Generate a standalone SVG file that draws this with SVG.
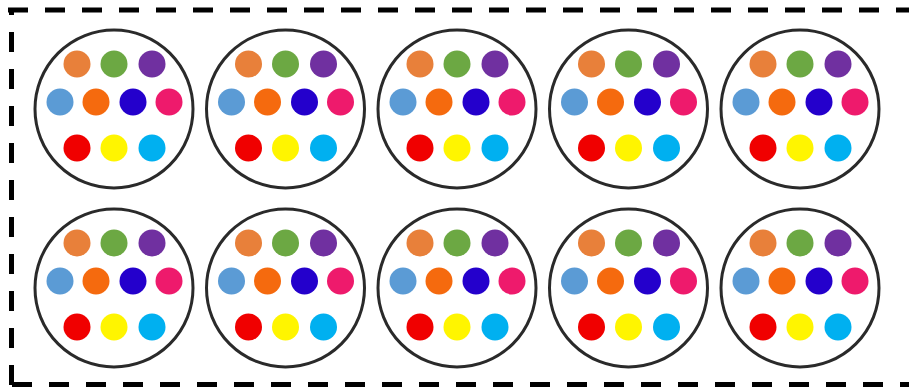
<svg xmlns="http://www.w3.org/2000/svg" xmlns:xlink="http://www.w3.org/1999/xlink" width="909" height="390" viewBox="0 0 909 390">
<style>
.ring{fill:#ffffff;stroke:#2a2a2a;stroke-width:3}
.border{fill:none;stroke:#000000;stroke-width:5;stroke-dasharray:20 17}
.c1{fill:#E8803A}.c2{fill:#6CA843}.c3{fill:#7030A0}
.c4{fill:#5B9BD5}.c5{fill:#F56A0E}.c6{fill:#2400CC}.c7{fill:#EE1A6C}
.c8{fill:#F00000}.c9{fill:#FFF500}.c10{fill:#00B0F0}
</style>
<defs>
<g id="tpl">
<circle class="ring" cx="0" cy="0" r="79"/>
<circle class="c1" cx="-37" cy="-45" r="13.5"/>
<circle class="c2" cx="0" cy="-45" r="13.5"/>
<circle class="c3" cx="38" cy="-45" r="13.5"/>
<circle class="c4" cx="-54" cy="-7" r="13.5"/>
<circle class="c5" cx="-18" cy="-7" r="13.5"/>
<circle class="c6" cx="19" cy="-7" r="13.5"/>
<circle class="c7" cx="55" cy="-7" r="13.5"/>
<circle class="c8" cx="-37" cy="39" r="13.5"/>
<circle class="c9" cx="0" cy="39" r="13.5"/>
<circle class="c10" cx="38" cy="39" r="13.5"/>
</g>
</defs>
<rect width="909" height="390" fill="#ffffff"/>
<g id="border">
<path class="border" d="M8,10 H909"/>
<path class="border" d="M11.5,385 V10"/>
<path class="border" d="M12,384.5 H909"/>
</g>
<g id="n1"><use xlink:href="#tpl" x="114" y="109"/></g>
<g id="n2"><use xlink:href="#tpl" x="285.5" y="109"/></g>
<g id="n3"><use xlink:href="#tpl" x="457" y="109"/></g>
<g id="n4"><use xlink:href="#tpl" x="628.5" y="109"/></g>
<g id="n5"><use xlink:href="#tpl" x="800" y="109"/></g>
<g id="n6"><use xlink:href="#tpl" x="114" y="288"/></g>
<g id="n7"><use xlink:href="#tpl" x="285.5" y="288"/></g>
<g id="n8"><use xlink:href="#tpl" x="457" y="288"/></g>
<g id="n9"><use xlink:href="#tpl" x="628.5" y="288"/></g>
<g id="n10"><use xlink:href="#tpl" x="800" y="288"/></g>
<g id="connectors"></g>
</svg>
